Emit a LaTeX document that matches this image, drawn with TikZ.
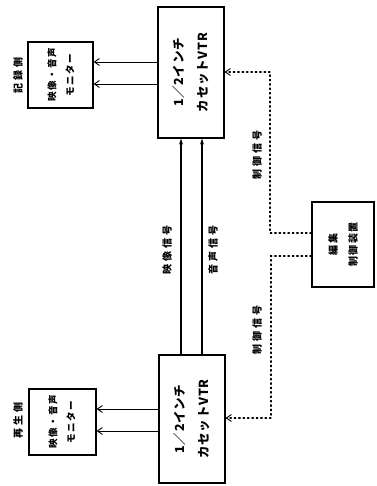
\documentclass[tikz,border=0pt]{standalone}
\usepackage{fontspec}
\newfontfamily\jp{Noto Sans CJK JP}
\newfontfamily\jpl[LetterSpace=30]{Noto Sans CJK JP}
\newfontfamily\jpm[LetterSpace=15]{Noto Sans CJK JP}
\newfontfamily\jpv[LetterSpace=6]{Noto Sans CJK JP}
\usetikzlibrary{arrows.meta}
\begin{document}
\begin{tikzpicture}[x=1pt,y=-1pt,
  box/.style={draw, line width=1.3pt, rectangle, inner sep=0pt},
  txt/.style={rotate=90, align=center, inner sep=0pt},
  lbl/.style={rotate=90, inner sep=0pt, font=\jpl\fontsize{10}{12}\selectfont\bfseries},
  sig/.style={line width=1.4pt, -{Stealth[length=6pt,width=4pt]}},
  mon/.style={line width=0.9pt, -{Straight Barb[length=5pt,width=7pt,line width=0.9pt]}},
  ctl/.style={line width=1.4pt, dash pattern=on 1.4pt off 3pt, line cap=round,
              -{Straight Barb[length=5pt,width=7pt,line width=0.9pt]}}]
\useasboundingbox (0,0) rectangle (376,486);
% boxes
\node[box, minimum width=66pt, minimum height=131pt] (vtrA) at (191,72.5) {};
\node[box, minimum width=66pt, minimum height=128pt] (vtrB) at (192,419) {};
\node[box, minimum width=65pt, minimum height=66pt] (monA) at (60.5,75) {};
\node[box, minimum width=67pt, minimum height=66pt] (monB) at (62.5,422) {};
\node[box, minimum width=62pt, minimum height=85pt] (ctrl) at (343,244.5) {};
% box texts
\node[txt, font=\jpv\bfseries\fontsize{12.5}{24}\selectfont] (vtrAt) at (191,72.5) {1／2インチ\\カセットVTR};
\node[txt, font=\jpv\bfseries\fontsize{12.5}{24}\selectfont] (vtrBt) at (192,419) {1／2インチ\\カセットVTR};
\node[txt, font=\jpm\bfseries\fontsize{9.5}{18}\selectfont] (monAt) at (61,75) {映像・音声\\モニター};
\node[txt, font=\jpm\bfseries\fontsize{9.5}{18}\selectfont] (monBt) at (62,422) {映像・音声\\モニター};
\node[txt, font=\jpm\bfseries\fontsize{10}{20}\selectfont] (ctrlt) at (343,244.5) {編集\\制御装置};
% side labels
\node[lbl] (recl) at (18,76) {記録側};
\node[lbl] (plal) at (18,420) {再生側};
\node[lbl] (vsl) at (167,250) {映像信号};
\node[lbl] (asl) at (213,250) {音声信号};
\node[lbl] (csA) at (257,155) {制御信号};
\node[lbl] (csB) at (257,330) {制御信号};
% signal lines
\draw[sig] (vtrB.north -| 181,0) -- (vtrA.south -| 181,0);
\draw[sig] (vtrB.north -| 202,0) -- (vtrA.south -| 202,0);
% monitor lines
\draw[mon] (vtrA.west |- 0,62) -- (monA.east |- 0,62);
\draw[mon] (vtrA.west |- 0,84) -- (monA.east |- 0,84);
\draw[mon] (vtrB.west |- 0,409) -- (monB.east |- 0,409);
\draw[mon] (vtrB.west |- 0,431) -- (monB.east |- 0,431);
% control lines
\coordinate (cA) at (270,233);
\coordinate (cB) at (271,256);
\draw[ctl] (ctrl.west |- cA) -- (cA) -- (270,72) -- (vtrA.east |- 0,72);
\draw[ctl] (ctrl.west |- cB) -- (cB) -- (271,418) -- (vtrB.east |- 0,418);
\end{tikzpicture}
\end{document}
